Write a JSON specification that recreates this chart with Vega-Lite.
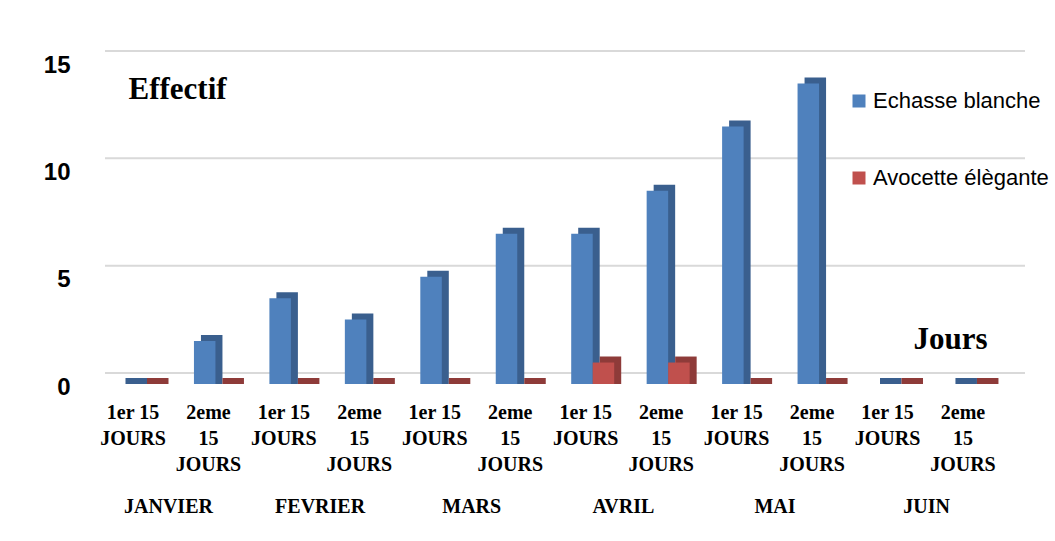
{
  "$schema": "https://vega.github.io/schema/vega-lite/v6.json",
  "width": 920,
  "height": 322,
  "autosize": {"type": "none"},
  "padding": {"left": 105, "top": 62, "right": 30, "bottom": 157},
  "background": "white",
  "config": {
    "view": {"stroke": null},
    "font": "Liberation Sans",
    "axisY": {
      "labelFont": "Liberation Sans",
      "labelFontWeight": "bold",
      "labelFontSize": 24,
      "labelColor": "black",
      "labelPadding": 35,
      "labelOffset": 3,
      "grid": false,
      "domain": false,
      "ticks": false,
      "titleAngle": 0,
      "titleX": 23,
      "titleY": 36,
      "titleAlign": "left",
      "titleBaseline": "alphabetic",
      "titleFont": "Liberation Serif",
      "titleFontSize": 31,
      "titleFontWeight": "bold",
      "titleColor": "black"
    },
    "axisX": {
      "labelExpr": "indexof(datum.value, '1er') >= 0 ? ['1er 15', 'JOURS'] : ['2eme', '15', 'JOURS']",
      "labelAngle": 0,
      "labelAlign": "center",
      "labelFont": "Liberation Serif",
      "labelFontWeight": "bold",
      "labelFontSize": 20,
      "labelLineHeight": 26,
      "labelColor": "black",
      "labelPadding": 18,
      "labelBaseline": "top",
      "labelOffset": -7,
      "labelOverlap": false,
      "labelLimit": 300,
      "domain": false,
      "ticks": false,
      "grid": false,
      "titleX": 808,
      "titleY": -36,
      "titleAlign": "left",
      "titleBaseline": "alphabetic",
      "titleFont": "Liberation Serif",
      "titleFontSize": 31,
      "titleFontWeight": "bold",
      "titleColor": "black"
    }
  },
  "datasets": {
    "effectifs": [
      {"periode": "JANVIER - 1er 15 JOURS", "mois": "JANVIER", "espece": "Echasse blanche", "effectif": 0},
      {"periode": "JANVIER - 1er 15 JOURS", "mois": "JANVIER", "espece": "Avocette élègante", "effectif": 0},
      {"periode": "JANVIER - 2eme 15 JOURS", "mois": "JANVIER", "espece": "Echasse blanche", "effectif": 2},
      {"periode": "JANVIER - 2eme 15 JOURS", "mois": "JANVIER", "espece": "Avocette élègante", "effectif": 0},
      {"periode": "FEVRIER - 1er 15 JOURS", "mois": "FEVRIER", "espece": "Echasse blanche", "effectif": 4},
      {"periode": "FEVRIER - 1er 15 JOURS", "mois": "FEVRIER", "espece": "Avocette élègante", "effectif": 0},
      {"periode": "FEVRIER - 2eme 15 JOURS", "mois": "FEVRIER", "espece": "Echasse blanche", "effectif": 3},
      {"periode": "FEVRIER - 2eme 15 JOURS", "mois": "FEVRIER", "espece": "Avocette élègante", "effectif": 0},
      {"periode": "MARS - 1er 15 JOURS", "mois": "MARS", "espece": "Echasse blanche", "effectif": 5},
      {"periode": "MARS - 1er 15 JOURS", "mois": "MARS", "espece": "Avocette élègante", "effectif": 0},
      {"periode": "MARS - 2eme 15 JOURS", "mois": "MARS", "espece": "Echasse blanche", "effectif": 7},
      {"periode": "MARS - 2eme 15 JOURS", "mois": "MARS", "espece": "Avocette élègante", "effectif": 0},
      {"periode": "AVRIL - 1er 15 JOURS", "mois": "AVRIL", "espece": "Echasse blanche", "effectif": 7},
      {"periode": "AVRIL - 1er 15 JOURS", "mois": "AVRIL", "espece": "Avocette élègante", "effectif": 1},
      {"periode": "AVRIL - 2eme 15 JOURS", "mois": "AVRIL", "espece": "Echasse blanche", "effectif": 9},
      {"periode": "AVRIL - 2eme 15 JOURS", "mois": "AVRIL", "espece": "Avocette élègante", "effectif": 1},
      {"periode": "MAI - 1er 15 JOURS", "mois": "MAI", "espece": "Echasse blanche", "effectif": 12},
      {"periode": "MAI - 1er 15 JOURS", "mois": "MAI", "espece": "Avocette élègante", "effectif": 0},
      {"periode": "MAI - 2eme 15 JOURS", "mois": "MAI", "espece": "Echasse blanche", "effectif": 14},
      {"periode": "MAI - 2eme 15 JOURS", "mois": "MAI", "espece": "Avocette élègante", "effectif": 0},
      {"periode": "JUIN - 1er 15 JOURS", "mois": "JUIN", "espece": "Echasse blanche", "effectif": 0},
      {"periode": "JUIN - 1er 15 JOURS", "mois": "JUIN", "espece": "Avocette élègante", "effectif": 0},
      {"periode": "JUIN - 2eme 15 JOURS", "mois": "JUIN", "espece": "Echasse blanche", "effectif": 0},
      {"periode": "JUIN - 2eme 15 JOURS", "mois": "JUIN", "espece": "Avocette élègante", "effectif": 0}
    ],
    "grille": [{"v": 0}, {"v": 5}, {"v": 10}, {"v": 15}],
    "mois": [{"mois": "JANVIER"}, {"mois": "FEVRIER"}, {"mois": "MARS"}, {"mois": "AVRIL"}, {"mois": "MAI"}, {"mois": "JUIN"}]
  },
  "layer": [
    {
      "encoding": {
        "x": {"field": "periode", "type": "nominal", "sort": null,
              "scale": {"paddingInner": 0.43, "paddingOuter": 0.3117, "align": 0.287},
              "axis": {"title": "Jours"}},
        "y": {"field": "effectif", "type": "quantitative",
              "scale": {"domain": [0, 15], "nice": false},
              "axis": {"title": "Effectif", "values": [0, 5, 10, 15]}}
      },
      "layer": [
        {
          "data": {"name": "grille"},
          "mark": {"type": "rule", "color": "#d9d9d9", "strokeWidth": 2, "yOffset": -11},
          "encoding": {
            "x": null,
            "y": {"field": "v", "type": "quantitative", "axis": {"title": "Effectif", "values": [0, 5, 10, 15]}}
          }
        },
        {
          "data": {"name": "effectifs"},
          "transform": [{"filter": "datum.espece === 'Echasse blanche'"}],
          "mark": {"type": "bar", "width": {"band": 0.5}, "xOffset": -3.75, "yOffset": -6, "y2Offset": 0, "color": "#3A5F8E"},
          "encoding": {"y2": {"datum": 0}}
        },
        {
          "data": {"name": "effectifs"},
          "transform": [{"filter": "datum.espece === 'Echasse blanche'"}],
          "mark": {"type": "bar", "width": {"band": 0.5}, "xOffset": -10.75},
          "encoding": {
            "color": {
              "field": "espece", "type": "nominal",
              "scale": {"domain": ["Echasse blanche", "Avocette élègante"], "range": ["#4F81BD", "#C0504D"]},
              "legend": {
                "title": null,
                "orient": "none",
                "legendX": 743,
                "legendY": 28,
                "symbolType": "square",
                "symbolSize": 169,
                "symbolStrokeWidth": 0,
                "labelFont": "Liberation Sans",
                "labelFontSize": 22,
                "labelColor": "black",
                "labelOffset": 3,
                "labelLimit": 400,
                "rowPadding": 55
              }
            }
          }
        },
        {
          "data": {"name": "effectifs"},
          "transform": [{"filter": "datum.espece === 'Avocette élègante'"}],
          "mark": {"type": "bar", "width": {"band": 0.5}, "xOffset": 17.75, "yOffset": -6, "y2Offset": 0, "color": "#8E3B39"},
          "encoding": {"y2": {"datum": 0}}
        },
        {
          "data": {"name": "effectifs"},
          "transform": [{"filter": "datum.espece === 'Avocette élègante'"}],
          "mark": {"type": "bar", "width": {"band": 0.5}, "xOffset": 10.75},
          "encoding": {
            "color": {"field": "espece", "type": "nominal"}
          }
        }
      ]
    },
    {
      "data": {"name": "mois"},
      "mark": {"type": "text", "text": ""},
      "encoding": {
        "x": {"field": "mois", "type": "nominal", "sort": null,
              "scale": {"type": "point", "padding": 0.534, "align": 0.389},
              "axis": {
                "orient": "bottom",
                "title": null,
                "labelExpr": "datum.label",
                "labelLineHeight": 20,
                "labelOffset": 0,
                "labelPadding": 112
              }}
      }
    }
  ],
  "resolve": {"scale": {"x": "independent"}, "axis": {"x": "independent"}}
}
